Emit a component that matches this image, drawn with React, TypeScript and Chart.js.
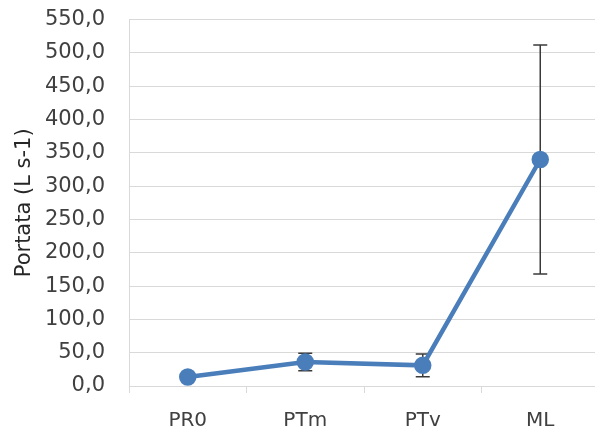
import React, { useEffect, useRef } from "react";
import { Chart, registerables } from "chart.js";

Chart.register(...registerables);

const categories = ["PR0", "PTm", "PTv", "ML"];
const means = [13.5, 36, 31, 340];
const errors = [2, 13, 17, 172];
const yTicksMax = 550;
const yTicksStep = 50;

const errorBarPlugin = {
  id: "errorBars",
  beforeDatasetsDraw(chart: any) {
    const ctx = chart.ctx;
    const meta = chart.getDatasetMeta(0);
    const yScale = chart.scales.y;
    ctx.save();
    ctx.strokeStyle = "#3a3a3a";
    ctx.lineWidth = 1.5;
    meta.data.forEach((pt: any, i: number) => {
      const x = pt.x;
      const yTop = yScale.getPixelForValue(means[i] + errors[i]);
      const yBot = yScale.getPixelForValue(means[i] - errors[i]);
      ctx.beginPath();
      ctx.moveTo(x, yTop);
      ctx.lineTo(x, yBot);
      ctx.moveTo(x - 7, yTop);
      ctx.lineTo(x + 7, yTop);
      ctx.moveTo(x - 7, yBot);
      ctx.lineTo(x + 7, yBot);
      ctx.stroke();
    });
    ctx.restore();
  },
};

export default function App() {
  const ref = useRef<HTMLCanvasElement>(null);
  useEffect(() => {
    if (!ref.current) return;
    const font = "DejaVu Sans, sans-serif";
    const chart = new Chart(ref.current, {
      type: "line",
      data: {
        labels: categories,
        datasets: [
          {
            data: means,
            borderColor: "#4a7ebb",
            backgroundColor: "#4a7ebb",
            borderWidth: 4.5,
            pointRadius: 6.5,
            pointHoverRadius: 6.5,
            pointBackgroundColor: "#4a7ebb",
            pointBorderColor: "#4a7ebb",
            tension: 0,
            clip: false,
          },
        ],
      },
      options: {
        animation: false,
        responsive: false,
        maintainAspectRatio: false,
        layout: { padding: 0 },
        plugins: { legend: { display: false }, tooltip: { enabled: false } },
        scales: {
          x: {
            type: "category",
            offset: true,
            afterFit: (s: any) => {
              s.height = 43;
            },
            grid: {
              offset: true,
              drawOnChartArea: false,
              drawTicks: true,
              tickLength: 7,
              color: "#d9d9d9",
            },
            border: { color: "#d9d9d9", width: 1 },
            ticks: { font: { family: font, size: 20 }, color: "#404040", padding: 16 },
          },
          y: {
            min: 0,
            max: yTicksMax,
            afterFit: (s: any) => {
              s.width = 129;
            },
            grid: { color: "#d9d9d9", drawTicks: false },
            border: { color: "#d9d9d9", width: 1 },
            ticks: {
              stepSize: yTicksStep,
              font: { family: font, size: 21 },
              color: "#404040",
              padding: 24,
              callback: (v: any) => Number(v).toFixed(1).replace(".", ","),
            },
            title: {
              display: true,
              text: "Portata (L s-1)",
              font: { family: font, size: 21 },
              color: "#262626",
              padding: { top: 12, bottom: 0 },
            },
          },
        },
      },
      plugins: [errorBarPlugin],
    });
    return () => chart.destroy();
  }, []);
  return (
    <div
      style={{
        position: "fixed",
        left: 0,
        top: 0,
        width: 595,
        height: 429,
        overflow: "hidden",
        background: "#fff",
      }}
    >
      <canvas
        ref={ref}
        width={610}
        height={446}
        style={{ position: "absolute", left: 0, top: -17 }}
      />
    </div>
  );
}
